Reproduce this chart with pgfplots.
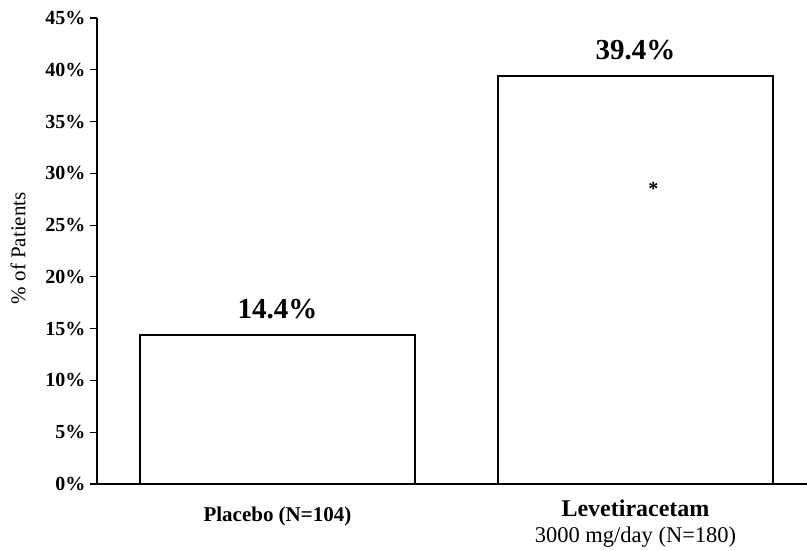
\documentclass[border=0pt]{standalone}
\usepackage{fontspec}
\setmainfont{Liberation Serif}
\usepackage{pgfplots}
\pgfplotsset{compat=1.18}
\begin{document}
\begin{tikzpicture}
\begin{axis}[
  scale only axis,
  width=710pt, height=466pt,
  at={(0,0)}, anchor=south west,
  ybar, bar width=275pt,
  xmin=-0.504, xmax=1.479,
  ymin=0, ymax=45,
  axis x line=bottom, axis y line=left,
  axis line style={-, line width=1.3pt, black},
  xtick=\empty,
  ytick={0,5,...,45},
  yticklabels={0\%,5\%,10\%,15\%,20\%,25\%,30\%,35\%,40\%,45\%},
  y tick label style={font=\bfseries\fontsize{20}{20}\selectfont, xshift=-1pt},
  ytick style={line width=1.1pt, black},
  tick align=outside,
  major tick length=7pt,
  ylabel={\% of Patients},
  ylabel style={at={(axis description cs:-0.111,0.506)}, anchor=center,
    font=\fontsize{21}{21}\selectfont},
  clip=false,
  nodes near coords={\pgfmathprintnumber[fixed,fixed zerofill,precision=1,assume math mode=true]{\pgfplotspointmeta}\%},
  every node near coord/.style={font=\bfseries\fontsize{29}{29}\selectfont, inner sep=0pt, yshift=15pt, anchor=south},
]
\addplot[fill=white, draw=black, line width=1.3pt] coordinates {(0,14.4) (1,39.4)};
\node[font=\bfseries\fontsize{21}{21}\selectfont] at (axis cs:0,0) [yshift=-32pt] {Placebo (N=104)};
\node[font=\bfseries\fontsize{24}{24}\selectfont] at (axis cs:1,0) [yshift=-24pt] {Levetiracetam};
\node[font=\fontsize{22.5}{22.5}\selectfont] at (axis cs:1,0) [yshift=-53pt] {3000 mg/day (N=180)};
\node[font=\bfseries\fontsize{20}{20}\selectfont] at (axis cs:1.05,28.5) {*};
\end{axis}
\pgfresetboundingbox
\path[use as bounding box] (-97pt,-66pt) rectangle (710pt,484pt);
\end{tikzpicture}
\end{document}
